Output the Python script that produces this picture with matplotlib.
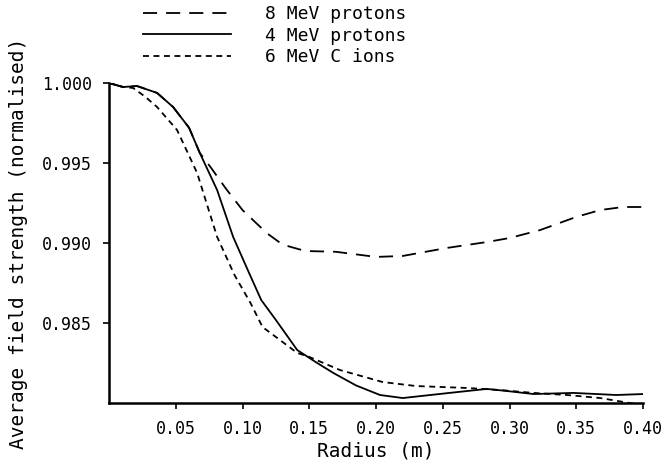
import matplotlib
matplotlib.use("Agg")
import matplotlib.pyplot as plt

# valores
r_8mev = [0, 0.005, 0.0105, 0.021, 0.036, 0.048, 0.06, 0.068, 0.076, 0.088, 0.1, 0.118,
          0.13, 0.147, 0.17, 0.2, 0.22, 0.253, 0.283, 0.30, 0.323, 0.35, 0.368, 0.385, 0.40]
b_8mev = [1.0, 0.99988, 0.99975, 0.99981, 0.99938, 0.9985, 0.9972, 0.99563, 0.99475, 0.99335,
          0.99206, 0.99063, 0.9899, 0.9895, 0.98945, 0.98913, 0.98919, 0.98969, 0.99006,
          0.99031, 0.99081, 0.99163, 0.99206, 0.99225, 0.99225]

r_4mev = [0, 0.005, 0.0105, 0.021, 0.036, 0.048, 0.06, 0.068, 0.081, 0.093, 0.104, 0.114,
          0.125, 0.141, 0.155, 0.168, 0.185, 0.203, 0.22, 0.255, 0.283, 0.298, 0.318, 0.348,
          0.38, 0.40]
b_4mev = [1.0, 0.99988, 0.99975, 0.99981, 0.99938, 0.9985, 0.9972, 0.99563, 0.99331, 0.99038,
          0.9883, 0.98644, 0.98519, 0.98331, 0.98255, 0.98188, 0.9811, 0.9805, 0.98031,
          0.98063, 0.98088, 0.98075, 0.98056, 0.98063, 0.9805, 0.98056]

r_cion = [0, 0.005, 0.0105, 0.018, 0.027, 0.036, 0.051, 0.066, 0.081, 0.094, 0.106, 0.115,
          0.128, 0.141, 0.15, 0.173, 0.205, 0.23, 0.268, 0.293, 0.318, 0.343, 0.368, 0.39, 0.40]
b_cion = [1.0, 0.99988, 0.99975, 0.99969, 0.99915, 0.9985, 0.99706, 0.99438, 0.99038, 0.9880,
          0.98625, 0.98475, 0.98394, 0.98313, 0.98288, 0.98206, 0.98131, 0.98106, 0.98094,
          0.98081, 0.98063, 0.9805, 0.98031, 0.98, 0.9799]

xticks = [0.05, 0.10, 0.15, 0.20, 0.25, 0.30, 0.35, 0.40]
yticks = [0.985, 0.990, 0.995, 1.000]

plt.rcParams['font.family'] = 'DejaVu Sans Mono'
plt.rcParams['font.size'] = 12

fig = plt.figure(figsize=(6.65, 4.68), dpi=100)
ax = fig.add_axes([109 / 665, 1 - 403 / 468, 534 / 665, 320 / 468])

lw = 1.3
ax.plot(r_8mev, b_8mev, color='black', lw=lw, linestyle=(0, (7.8, 5)), label='8 MeV protons')
ax.plot(r_4mev, b_4mev, color='black', lw=lw, linestyle='-', label='4 MeV protons')
ax.plot(r_cion, b_cion, color='black', lw=lw, linestyle=(0, (3.3, 2.5)), label='6 MeV C ions')

ax.set_xlim(0, 0.40)
ax.set_ylim(0.980, 1.000)
ax.set_xticks(xticks)
ax.set_xticklabels(['%.2f' % t for t in xticks])
ax.set_yticks(yticks)
ax.set_yticklabels(['%.3f' % t for t in yticks])
ax.tick_params(direction='out', length=4, width=1.2, pad=8)

for s in ['top', 'right']:
    ax.spines[s].set_visible(False)
for s in ['left', 'bottom']:
    ax.spines[s].set_linewidth(1.8)

ax.set_xlabel('Radius (m)', fontsize=14, labelpad=3)
ax.set_ylabel('Average field strength (normalised)', fontsize=14, labelpad=10)

fig.legend(loc='upper left', bbox_to_anchor=(143 / 665, 1 - 5 / 468), frameon=False,
           fontsize=13, handlelength=4.9, handletextpad=1.85, labelspacing=0.2,
           borderpad=0, borderaxespad=0)

fig.savefig('out.png', dpi=100)
